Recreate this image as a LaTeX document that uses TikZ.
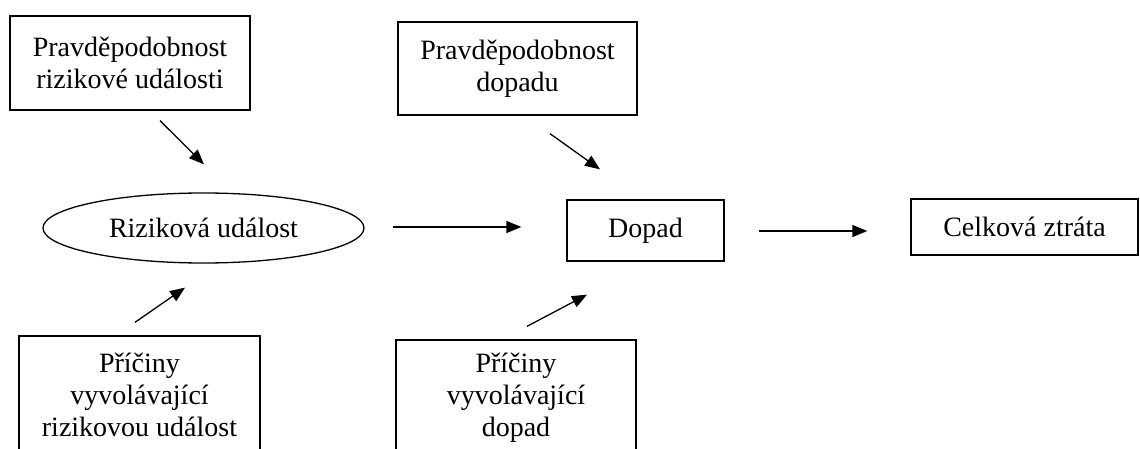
\documentclass[tikz,border=0pt]{standalone}
\usepackage{fontspec}
\setmainfont{Liberation Serif}
\usetikzlibrary{arrows.meta,shapes.geometric,calc}

\begin{document}
\begin{tikzpicture}[x=1pt, y=-1pt,
  box/.style={draw, line width=1.3pt, align=center, inner sep=0pt,
              font=\fontsize{28}{32}\selectfont},
  oval/.style={box, ellipse},
  arr/.style={-{Triangle[length=15pt, width=12pt]}, line width=1.3pt}
]
\clip (0,0) rectangle (1140,449);
% top row
\node[box, minimum width=240pt, minimum height=94pt] (pev) at (130,63) {Pravděpodobnost\\rizikové události};
\node[box, minimum width=239pt, minimum height=93pt] (pdop) at (517.5,68.5) {Pravděpodobnost\\dopadu};
% middle row
\node[oval, minimum width=321pt, minimum height=70pt] (ev) at (203.5,228) {Riziková událost};
\node[box, minimum width=157pt, minimum height=61pt] (dop) at (645.5,230.5) {Dopad};
\node[box, minimum width=227pt, minimum height=56pt] (loss) at (1024.5,227) {Celková ztráta};
% bottom row, cut off by the frame
\node[box, minimum width=241pt, minimum height=118pt] (cev) at (139.5,395) {Příčiny\\vyvolávající\\rizikovou událost};
\node[box, minimum width=240pt, minimum height=116pt] (cdop) at (516,398) {Příčiny\\vyvolávající\\dopad};
% arrows
\draw[arr] ($(pev.south)+(30,10)$) -- ($(ev.north)+(0.5,-28)$);
\draw[arr] ($(pdop.south)+(32.5,18)$) -- ($(dop.north)+(-45.5,-30)$);
\draw[arr] ($(ev.east)+(28,-1)$) -- ($(dop.west)+(-45,-3.5)$);
\draw[arr] ($(dop.east)+(34,0.5)$) -- ($(loss.west)+(-43,4)$);
\draw[arr] ($(cev.north)+(-4.5,-13)$) -- ($(ev.south)+(-18.5,24)$);
\draw[arr] ($(cdop.north)+(11,-13)$) -- ($(dop.south)+(-58.5,33)$);
\end{tikzpicture}
\end{document}
